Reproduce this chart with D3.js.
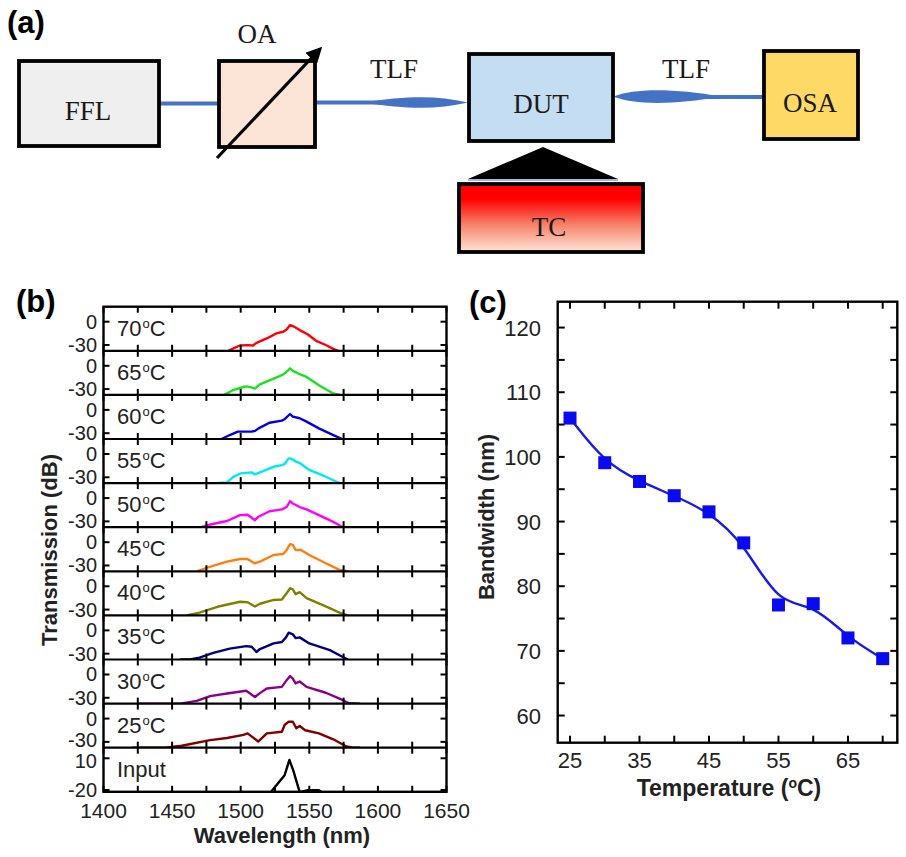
<!DOCTYPE html>
<html><head><meta charset="utf-8">
<script src="https://cdn.jsdelivr.net/npm/d3@7/dist/d3.min.js"></script>
<style>body{margin:0;background:#fff}svg{display:block}</style>
</head><body>
<svg id="fig" width="906" height="857"></svg>
<script>
// ---------------- DATA ----------------
// Panel (b): transmission spectra [wavelength nm, dB]
const wlTicks = [1400, 1450, 1500, 1550, 1600, 1650];
const tempLabels = ["70", "65", "60", "55", "50", "45", "40", "35", "30", "25"];
const specColors = ["#ff0000", "#1fe01f", "#0000e0", "#00e8f8", "#ff00ff", "#ff7f0e", "#808000", "#000080", "#8b008b", "#800000"];
const spec70 = [[1491,-37.5],[1494.6,-34.5],[1499.5,-30.7],[1505,-30.2],[1509,-30.7],[1511.5,-27.3],[1519,-21.6],[1526,-15.1],[1531,-13],[1533.5,-10],[1536,-4.4],[1538,-5.6],[1543,-10.8],[1549,-16.5],[1555,-24.6],[1562,-30],[1567.5,-35],[1571,-37.5]];
const spec65 = [[1488,-37.5],[1494.6,-31.2],[1502,-27.3],[1504,-26.5],[1507,-27.5],[1510.4,-29.3],[1514,-24],[1524,-16.5],[1530,-12.1],[1532,-10],[1536,-3.4],[1538,-6.5],[1542,-10],[1548,-14.3],[1557,-25],[1567.5,-35.7],[1572,-37.5]];
const spec60 = [[1486,-37.5],[1492,-32.4],[1498,-28],[1508,-28],[1510.5,-27],[1513,-23.8],[1521,-16.5],[1530,-13.8],[1532,-12],[1536,-5.3],[1538,-8.7],[1543,-10.8],[1548,-15.1],[1557,-23.8],[1567.5,-32.4],[1574,-37.5]];
const spec55 = [[1482,-37.5],[1490,-36.6],[1494.6,-29.5],[1500,-25],[1508,-23.7],[1510.4,-26.3],[1514,-23.7],[1524,-16.5],[1530,-14.3],[1532,-13],[1535,-5.7],[1537,-6.2],[1540,-9.5],[1543,-11.7],[1550,-20.5],[1562,-29.3],[1572,-37.5]];
const spec50 = [[1471,-37.5],[1478,-34],[1490,-29.5],[1499.5,-22],[1505,-21.4],[1510.4,-28.5],[1513,-24],[1521,-17],[1530,-14.5],[1533.5,-11.5],[1536,-4],[1538,-7],[1543,-11.5],[1548,-14.5],[1557,-22],[1567.5,-30.7],[1574.5,-37.5]];
const spec45 = [[1468,-37.5],[1478,-31.5],[1490,-25],[1499.5,-21.6],[1505,-21.6],[1510,-27.2],[1514,-25],[1524,-16.5],[1531,-15],[1533.5,-10],[1536,-2.6],[1538,-3.5],[1540,-10],[1544,-10],[1550,-16.5],[1562,-27.2],[1572,-35.7],[1578,-37.5]];
const spec40 = [[1460.5,-37.5],[1470,-34],[1483,-26.4],[1499.5,-19.9],[1505,-20.5],[1510.4,-26],[1514,-22.5],[1524,-17.6],[1530,-17],[1533.5,-9],[1536,-2.6],[1538,-4],[1540,-10],[1543,-7.5],[1548,-15.3],[1562,-26],[1572,-34],[1578,-37.5]];
const spec35 = [[1456,-37.5],[1463,-37.5],[1470,-35],[1480,-29],[1492,-23.5],[1504,-20.3],[1508,-21],[1511.5,-27.8],[1514,-24],[1524,-16.8],[1530,-15],[1533,-9],[1535,-3],[1538,-5],[1540,-10],[1543,-9],[1550,-16.8],[1565,-25.5],[1572,-32],[1578,-37.5]];
const spec30 = [[1425,-37.5],[1456,-37.5],[1468,-34],[1477.7,-27.8],[1490,-24.5],[1504,-21],[1510.4,-29],[1514,-24],[1519,-18],[1530,-16],[1533.5,-7.3],[1536,-2],[1538,-5.3],[1540,-11.5],[1543,-9],[1548,-16],[1562,-23.5],[1572,-31],[1579,-37],[1587,-37.5]];
const spec25 = [[1420.7,-37.5],[1445,-37.5],[1457,-35],[1477.7,-27.8],[1490,-25],[1502,-21],[1505,-19],[1512.8,-29.6],[1519,-19],[1530,-17],[1532,-8.3],[1535,-4],[1538,-4],[1540.5,-12.5],[1543,-9.5],[1547,-15],[1557,-19],[1567.5,-26.7],[1577,-36],[1582,-37.5],[1587,-37.5]];
const specInput = [[1522,-22],[1532,-6],[1535.5,8.4],[1538.3,-1.5],[1543,-22],[1549,-20.2],[1557,-20.2],[1559,-22]];
const specYTicks = [0, -30];
const inputYTicks = [10, -20];

// Panel (c): bandwidth vs temperature
const bwTemps = [25, 30, 35, 40, 45, 50, 55, 60, 65, 70];
const bwValues = [106.0, 99.1, 96.2, 94.0, 91.5, 86.7, 77.1, 77.3, 72.0, 68.8];
const bwYTicks = [60, 70, 80, 90, 100, 110, 120];
const bwXTicks = [25, 35, 45, 55, 65];

// ---------------- DRAW ----------------
const SANS = "'Liberation Sans', Arial, Helvetica, sans-serif";
const SERIF = "'Liberation Serif', 'Times New Roman', serif";
const svg = d3.select("#fig");
const defs = svg.append("defs");

// ---------- Panel (a) ----------
const grad = defs.append("linearGradient").attr("id", "tcGrad")
  .attr("x1", 0).attr("y1", 0).attr("x2", 0).attr("y2", 1);
grad.append("stop").attr("offset", "0%").attr("stop-color", "#ff0000");
grad.append("stop").attr("offset", "22%").attr("stop-color", "#ff0000");
grad.append("stop").attr("offset", "60%").attr("stop-color", "#f6826a");
grad.append("stop").attr("offset", "100%").attr("stop-color", "#fde6d6");

defs.append("marker").attr("id", "arrowHead")
  .attr("viewBox", "0 0 10 10").attr("refX", 8).attr("refY", 5)
  .attr("markerWidth", 5).attr("markerHeight", 5).attr("orient", "auto")
  .attr("markerUnits", "strokeWidth")
  .append("path").attr("d", "M0,0 L10,5 L0,10 Z").attr("fill", "#000");

const ga = svg.append("g");
const fiber = "#4472c4";
ga.append("text").attr("x", 7).attr("y", 33).attr("font-family", SANS).attr("font-weight", "bold")
  .attr("font-size", 31).text("(a)");

// fibers
ga.append("line").attr("x1", 158).attr("x2", 220).attr("y1", 103.5).attr("y2", 103.5)
  .attr("stroke", fiber).attr("stroke-width", 4);
ga.append("line").attr("x1", 315).attr("x2", 380).attr("y1", 102.5).attr("y2", 102.5)
  .attr("stroke", fiber).attr("stroke-width", 4);
function lens(x0, x1, yc, h, a, b) {
  const w = x1 - x0;
  return `M${x0},${yc} C${x0 + w * a},${yc - h} ${x1 - w * b},${yc - h} ${x1},${yc} ` +
         `C${x1 - w * b},${yc + h} ${x0 + w * a},${yc + h} ${x0},${yc} Z`;
}
ga.append("path").attr("d", lens(362, 468, 102.5, 7, 0.45, 0.3)).attr("fill", fiber);
ga.append("line").attr("x1", 690).attr("x2", 764).attr("y1", 97).attr("y2", 97)
  .attr("stroke", fiber).attr("stroke-width", 4);
ga.append("path").attr("d", lens(613, 722, 96.5, 8.5, 0.2, 0.45)).attr("fill", fiber);

// boxes
const boxStroke = 3.8;
function box(x, y, w, h, fill) {
  ga.append("rect").attr("x", x).attr("y", y).attr("width", w).attr("height", h)
    .attr("fill", fill).attr("stroke", "#000").attr("stroke-width", boxStroke);
}
function label(x, y, t) {
  ga.append("text").attr("x", x).attr("y", y).attr("text-anchor", "middle")
    .attr("font-family", SERIF).attr("font-size", 27).attr("fill", "#1a1a1a").text(t);
}
box(19, 61, 140, 85, "#efefef");
box(219, 61, 96, 86, "#fce4d6");
box(469, 54, 144, 87, "#c5ddf2");
box(764, 51, 94, 88, "#ffd966");
// triangle
ga.append("path").attr("d", "M543,147 L468,179 L618,179 Z").attr("fill", "#000");
ga.append("line").attr("x1", 468).attr("x2", 618).attr("y1", 180).attr("y2", 180)
  .attr("stroke", fiber).attr("stroke-width", 1);
box(459, 184, 184, 68, "url(#tcGrad)");
// arrow through OA
ga.append("line").attr("x1", 217).attr("y1", 158).attr("x2", 320).attr("y2", 49)
  .attr("stroke", "#000").attr("stroke-width", 3.2).attr("marker-end", "url(#arrowHead)");

label(88, 120, "FFL");
label(257, 43, "OA");
label(394, 78, "TLF");
label(541, 113, "DUT");
label(686, 78, "TLF");
label(810, 112, "OSA");
label(549, 236, "TC");

// ---------- Panel (b) ----------
const gb = svg.append("g");
const bLeft = 103.5, bRight = 446.5, bTop = 306.7, ph = 44.1;
const specs = [spec70, spec65, spec60, spec55, spec50, spec45, spec40, spec35, spec30, spec25, specInput];
const bx = d3.scaleLinear().domain([1400, 1650]).range([bLeft, bRight]);
const minorWl = d3.range(1400, 1651, 25);

gb.append("text").attr("x", 16).attr("y", 312).attr("font-family", SANS).attr("font-weight", "bold")
  .attr("font-size", 31).text("(b)");

specs.forEach((s, i) => {
  const T = bTop + i * ph;
  const isInput = i === specs.length - 1;
  const isLastTemp = i === specs.length - 2;
  const y = d3.scaleLinear().domain(isInput ? [-21.7, 20] : [-37.5, 19.3]).range([T + ph, T]);
  const cid = "clip" + i;
  defs.append("clipPath").attr("id", cid).append("rect")
    .attr("x", bLeft).attr("y", T).attr("width", bRight - bLeft).attr("height", ph);
  gb.append("path").datum(s)
    .attr("clip-path", `url(#${cid})`)
    .attr("d", d3.line().x(d => bx(d[0])).y(d => y(d[1])))
    .attr("fill", "none").attr("stroke", isInput ? "#000" : specColors[i])
    .attr("stroke-width", 2.4).attr("stroke-linejoin", "round");
  // x ticks top (down) and bottom (up)
  minorWl.forEach(w => {
    gb.append("line").attr("x1", bx(w)).attr("x2", bx(w)).attr("y1", T).attr("y2", T + 6)
      .attr("stroke", "#000").attr("stroke-width", 2);
    gb.append("line").attr("x1", bx(w)).attr("x2", bx(w)).attr("y1", T + ph).attr("y2", T + ph - 6)
      .attr("stroke", "#000").attr("stroke-width", 2);
  });
  // y ticks + labels
  (isInput ? inputYTicks : specYTicks).forEach(v => {
    const yy = y(v);
    gb.append("line").attr("x1", bLeft).attr("x2", bLeft + 6).attr("y1", yy).attr("y2", yy)
      .attr("stroke", "#000").attr("stroke-width", 2);
    gb.append("line").attr("x1", bRight).attr("x2", bRight - 6).attr("y1", yy).attr("y2", yy)
      .attr("stroke", "#000").attr("stroke-width", 2);
    let nudge = 0;
    if (isInput && v === 10) nudge = 3;
    if (isLastTemp && v === -30) nudge = -2;
    gb.append("text").attr("x", 97).attr("y", yy + 7 + nudge).attr("text-anchor", "end")
      .attr("font-family", SANS).attr("font-size", 20).attr("fill", "#222").text(v);
  });
  // panel label
  const t = gb.append("text").attr("x", 117).attr("y", T + 29)
    .attr("font-family", SANS).attr("font-size", 22).attr("fill", "#222");
  if (isInput) {
    t.text("Input");
  } else {
    t.append("tspan").text(tempLabels[i]);
    t.append("tspan").attr("font-size", 13).attr("dy", -8).attr("dx", 1).text("o");
    t.append("tspan").attr("dy", 8).text("C");
  }
  // divider
  if (i > 0) {
    gb.append("line").attr("x1", bLeft).attr("x2", bRight).attr("y1", T).attr("y2", T)
      .attr("stroke", "#000").attr("stroke-width", 2.2);
  }
});
gb.append("rect").attr("x", bLeft).attr("y", bTop).attr("width", bRight - bLeft)
  .attr("height", ph * specs.length).attr("fill", "none").attr("stroke", "#000").attr("stroke-width", 2.4);
wlTicks.forEach(w => {
  gb.append("text").attr("x", bx(w)).attr("y", 818).attr("text-anchor", "middle")
    .attr("font-family", SANS).attr("font-size", 21).attr("fill", "#222").text(w);
});
gb.append("text").attr("x", 282).attr("y", 843).attr("text-anchor", "middle")
  .attr("font-family", SANS).attr("font-weight", "bold").attr("font-size", 22).attr("fill", "#222")
  .text("Wavelength (nm)");
gb.append("text").attr("transform", "translate(57,550) rotate(-90)").attr("text-anchor", "middle")
  .attr("font-family", SANS).attr("font-weight", "bold").attr("font-size", 22).attr("fill", "#222")
  .text("Transmission (dB)");

// ---------- Panel (c) ----------
const gc = svg.append("g");
const cL = 557.7, cR = 897.3, cT = 301.7, cB = 742.7;
const cx = d3.scaleLinear().domain([23.23, 72.1]).range([cL, cR]);
const cy = d3.scaleLinear().domain([55.8, 124]).range([cB, cT]);

gc.append("text").attr("x", 469).attr("y", 313).attr("font-family", SANS).attr("font-weight", "bold")
  .attr("font-size", 31).text("(c)");

d3.range(25, 71, 5).forEach(v => {
  const x = cx(v);
  gc.append("line").attr("x1", x).attr("x2", x).attr("y1", cB).attr("y2", cB - 7).attr("stroke", "#000").attr("stroke-width", 2);
  gc.append("line").attr("x1", x).attr("x2", x).attr("y1", cT).attr("y2", cT + 7).attr("stroke", "#000").attr("stroke-width", 2);
});
d3.range(60, 121, 5).forEach(v => {
  const y = cy(v);
  gc.append("line").attr("x1", cL).attr("x2", cL + 7).attr("y1", y).attr("y2", y).attr("stroke", "#000").attr("stroke-width", 2);
  gc.append("line").attr("x1", cR).attr("x2", cR - 7).attr("y1", y).attr("y2", y).attr("stroke", "#000").attr("stroke-width", 2);
});
bwYTicks.forEach(v => {
  gc.append("text").attr("x", 541).attr("y", cy(v) + 8).attr("text-anchor", "end")
    .attr("font-family", SANS).attr("font-size", 22).attr("fill", "#222").text(v);
});
bwXTicks.forEach(v => {
  gc.append("text").attr("x", cx(v)).attr("y", 768).attr("text-anchor", "middle")
    .attr("font-family", SANS).attr("font-size", 22).attr("fill", "#222").text(v);
});
const pts = bwTemps.map((t, i) => [t, bwValues[i]]);
gc.append("path").datum(pts)
  .attr("d", d3.line().x(d => cx(d[0])).y(d => cy(d[1])).curve(d3.curveBasis))
  .attr("fill", "none").attr("stroke", "#1a1ae6").attr("stroke-width", 2.4);
gc.selectAll("rect.pt").data(pts).enter().append("rect").attr("class", "pt")
  .attr("x", d => cx(d[0]) - 6.5).attr("y", d => cy(d[1]) - 6.5)
  .attr("width", 13).attr("height", 13).attr("fill", "#0a0af0");
gc.append("rect").attr("x", cL).attr("y", cT).attr("width", cR - cL).attr("height", cB - cT)
  .attr("fill", "none").attr("stroke", "#000").attr("stroke-width", 2.4);

const tl = gc.append("text").attr("x", 729).attr("y", 796).attr("text-anchor", "middle")
  .attr("font-family", SANS).attr("font-weight", "bold").attr("font-size", 23).attr("fill", "#222");
tl.append("tspan").text("Temperature (");
tl.append("tspan").attr("font-size", 14).attr("dy", -8).text("o");
tl.append("tspan").attr("dy", 8).text("C)");
gc.append("text").attr("transform", "translate(494,517) rotate(-90)").attr("text-anchor", "middle")
  .attr("font-family", SANS).attr("font-weight", "bold").attr("font-size", 22).attr("fill", "#222")
  .text("Bandwidth (nm)");
</script>
</body></html>
